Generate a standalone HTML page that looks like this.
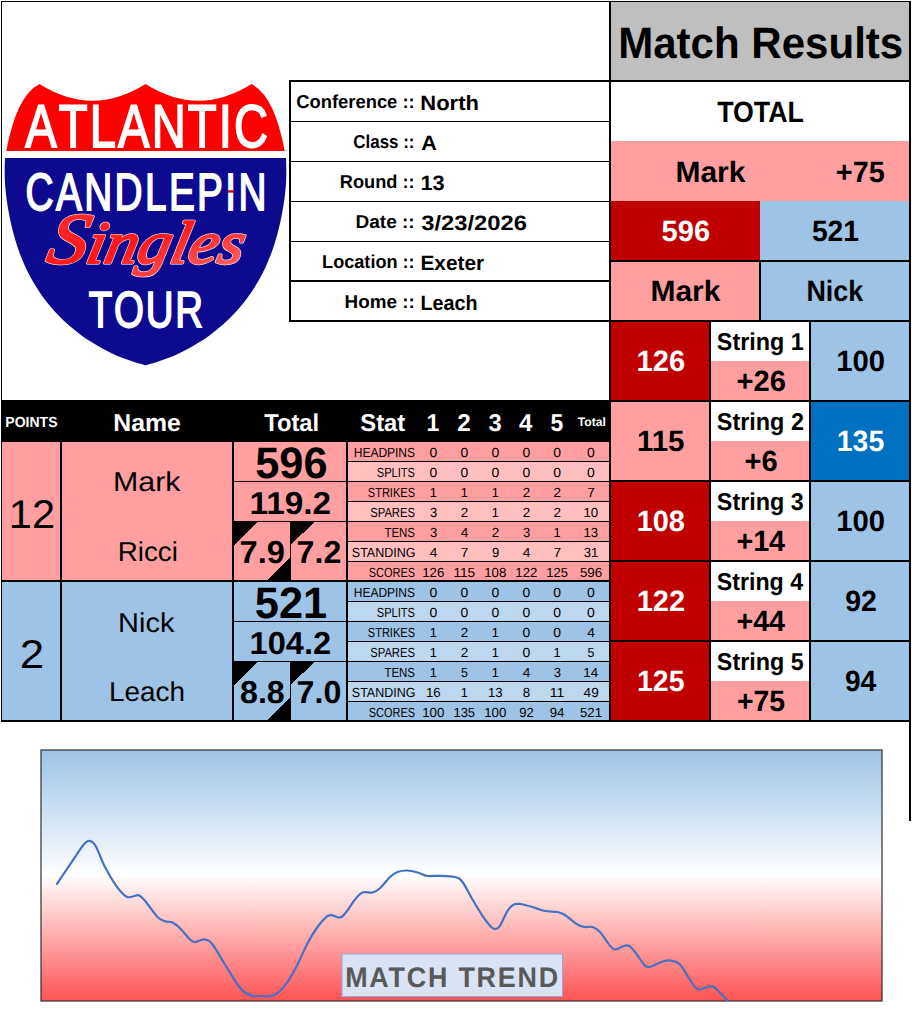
<!DOCTYPE html>
<html lang="en"><head><meta charset="utf-8"><title>Atlantic Candlepin Singles Tour - Match Results</title>
<style>
html,body{margin:0;padding:0;background:#fff}
body{width:912px;height:1023px;overflow:hidden}
svg{display:block;font-family:"Liberation Sans",Arial,sans-serif}
text{white-space:pre}
</style></head><body>
<svg width="912" height="1023" viewBox="0 0 912 1023" shape-rendering="crispEdges" text-rendering="geometricPrecision">
<defs>
<linearGradient id="cg" x1="0" y1="0" x2="0" y2="1"><stop offset="0" stop-color="#9DC3E6"/><stop offset="0.5" stop-color="#ffffff"/><stop offset="1" stop-color="#FF5353"/></linearGradient>
<linearGradient id="sg" x1="0" y1="0" x2="1" y2="1"><stop offset="0" stop-color="#FF3030"/><stop offset="0.5" stop-color="#FF1818"/><stop offset="1" stop-color="#FF7070"/></linearGradient>
</defs>
<rect width="912" height="1023" fill="#fff"/>
<g>
<rect x="1" y="1" width="910" height="1" fill="#000"/>
<rect x="1" y="1" width="1" height="721" fill="#000"/>
<rect x="909" y="1" width="2" height="820" fill="#000"/>
<rect x="609" y="1" width="2" height="721" fill="#000"/>
<rect x="611" y="2" width="298" height="78" fill="#BFBFBF"/>
<rect x="289" y="80" width="621" height="2" fill="#000"/>
<text x="618.19" y="57.5" font-size="43.92" font-weight="bold" textLength="285.04" lengthAdjust="spacingAndGlyphs">Match Results</text>
<text x="717.21" y="121.75" font-size="29.28" font-weight="bold" textLength="86.59" lengthAdjust="spacingAndGlyphs">TOTAL</text>
<rect x="611" y="141" width="298" height="60" fill="#FF9F9F"/>
<text x="675.49" y="182" font-size="29.28" font-weight="bold" textLength="69.98" lengthAdjust="spacingAndGlyphs">Mark</text>
<text x="835.79" y="182" font-size="29.28" font-weight="bold" textLength="49.02" lengthAdjust="spacingAndGlyphs">+75</text>
<rect x="611" y="201" width="149" height="59" fill="#C00000"/>
<rect x="760" y="201" width="149" height="59" fill="#9DC3E6"/>
<text x="661.61" y="241.25" font-size="29.28" font-weight="bold" fill="#fff" textLength="48.44" lengthAdjust="spacingAndGlyphs">596</text>
<text x="811.88" y="241.25" font-size="29.28" font-weight="bold" textLength="47.16" lengthAdjust="spacingAndGlyphs">521</text>
<rect x="611" y="260" width="298" height="2" fill="#000"/>
<rect x="611" y="262" width="148" height="58" fill="#FF9F9F"/>
<rect x="761" y="262" width="148" height="58" fill="#9DC3E6"/>
<rect x="759" y="261" width="2" height="60" fill="#000"/>
<text x="650.49" y="301.25" font-size="29.28" font-weight="bold" textLength="69.98" lengthAdjust="spacingAndGlyphs">Mark</text>
<text x="806.45" y="301.25" font-size="29.28" font-weight="bold" textLength="56.77" lengthAdjust="spacingAndGlyphs">Nick</text>
<rect x="611" y="320" width="298" height="2" fill="#000"/>
<rect x="611" y="322" width="98" height="78" fill="#C00000"/>
<rect x="711" y="322" width="98" height="39" fill="#fff"/>
<rect x="711" y="361" width="98" height="39" fill="#FF9F9F"/>
<rect x="811" y="322" width="98" height="78" fill="#9DC3E6"/>
<rect x="709" y="322" width="2" height="78" fill="#000"/>
<rect x="809" y="322" width="2" height="78" fill="#000"/>
<rect x="611" y="400" width="298" height="2" fill="#000"/>
<text x="636.50" y="371.25" font-size="29.28" font-weight="bold" fill="#fff" textLength="48.71" lengthAdjust="spacingAndGlyphs">126</text>
<text x="716.83" y="350" font-size="24.40" font-weight="bold" textLength="86.82" lengthAdjust="spacingAndGlyphs">String 1</text>
<text x="736.48" y="390.75" font-size="29.28" font-weight="bold" textLength="49.37" lengthAdjust="spacingAndGlyphs">+26</text>
<text x="836.22" y="371.25" font-size="29.28" font-weight="bold" textLength="48.91" lengthAdjust="spacingAndGlyphs">100</text>
<rect x="611" y="402" width="98" height="78" fill="#FF9F9F"/>
<rect x="711" y="402" width="98" height="39" fill="#fff"/>
<rect x="711" y="441" width="98" height="39" fill="#FF9F9F"/>
<rect x="811" y="402" width="98" height="78" fill="#0070C0"/>
<rect x="709" y="402" width="2" height="78" fill="#000"/>
<rect x="809" y="402" width="2" height="78" fill="#000"/>
<rect x="611" y="480" width="298" height="2" fill="#000"/>
<text x="637.01" y="451.25" font-size="29.28" font-weight="bold" textLength="47.47" lengthAdjust="spacingAndGlyphs">115</text>
<text x="716.83" y="430" font-size="24.40" font-weight="bold" textLength="87.11" lengthAdjust="spacingAndGlyphs">String 2</text>
<text x="744.59" y="470.75" font-size="29.28" font-weight="bold" textLength="33.15" lengthAdjust="spacingAndGlyphs">+6</text>
<text x="836.76" y="451.25" font-size="29.28" font-weight="bold" fill="#fff" textLength="47.47" lengthAdjust="spacingAndGlyphs">135</text>
<rect x="611" y="482" width="98" height="78" fill="#C00000"/>
<rect x="711" y="482" width="98" height="39" fill="#fff"/>
<rect x="711" y="521" width="98" height="39" fill="#FF9F9F"/>
<rect x="811" y="482" width="98" height="78" fill="#9DC3E6"/>
<rect x="709" y="482" width="2" height="78" fill="#000"/>
<rect x="809" y="482" width="2" height="78" fill="#000"/>
<rect x="611" y="560" width="298" height="2" fill="#000"/>
<text x="636.65" y="531.25" font-size="29.28" font-weight="bold" fill="#fff" textLength="48.28" lengthAdjust="spacingAndGlyphs">108</text>
<text x="716.83" y="510" font-size="24.40" font-weight="bold" textLength="87.02" lengthAdjust="spacingAndGlyphs">String 3</text>
<text x="736.39" y="550.75" font-size="29.28" font-weight="bold" textLength="48.67" lengthAdjust="spacingAndGlyphs">+14</text>
<text x="836.22" y="531.25" font-size="29.28" font-weight="bold" textLength="48.91" lengthAdjust="spacingAndGlyphs">100</text>
<rect x="611" y="562" width="98" height="78" fill="#C00000"/>
<rect x="711" y="562" width="98" height="39" fill="#fff"/>
<rect x="711" y="601" width="98" height="39" fill="#FF9F9F"/>
<rect x="811" y="562" width="98" height="78" fill="#9DC3E6"/>
<rect x="709" y="562" width="2" height="78" fill="#000"/>
<rect x="809" y="562" width="2" height="78" fill="#000"/>
<rect x="611" y="640" width="298" height="2" fill="#000"/>
<text x="636.72" y="611.25" font-size="29.28" font-weight="bold" fill="#fff" textLength="48.39" lengthAdjust="spacingAndGlyphs">122</text>
<text x="716.83" y="590" font-size="24.40" font-weight="bold" textLength="86.29" lengthAdjust="spacingAndGlyphs">String 4</text>
<text x="736.39" y="630.75" font-size="29.28" font-weight="bold" textLength="48.67" lengthAdjust="spacingAndGlyphs">+44</text>
<text x="845.21" y="611.25" font-size="29.28" font-weight="bold" textLength="31.72" lengthAdjust="spacingAndGlyphs">92</text>
<rect x="611" y="642" width="98" height="78" fill="#C00000"/>
<rect x="711" y="642" width="98" height="39" fill="#fff"/>
<rect x="711" y="681" width="98" height="39" fill="#FF9F9F"/>
<rect x="811" y="642" width="98" height="78" fill="#9DC3E6"/>
<rect x="709" y="642" width="2" height="78" fill="#000"/>
<rect x="809" y="642" width="2" height="78" fill="#000"/>
<rect x="611" y="720" width="298" height="2" fill="#000"/>
<text x="637.01" y="691.25" font-size="29.28" font-weight="bold" fill="#fff" textLength="47.47" lengthAdjust="spacingAndGlyphs">125</text>
<text x="716.83" y="670" font-size="24.40" font-weight="bold" textLength="86.82" lengthAdjust="spacingAndGlyphs">String 5</text>
<text x="736.97" y="710.75" font-size="29.28" font-weight="bold" textLength="48.15" lengthAdjust="spacingAndGlyphs">+75</text>
<text x="844.91" y="691.25" font-size="29.28" font-weight="bold" textLength="31.35" lengthAdjust="spacingAndGlyphs">94</text>
<rect x="289" y="80" width="2" height="242" fill="#000"/>
<rect x="291" y="121" width="318" height="1" fill="#000"/>
<rect x="291" y="161" width="318" height="1" fill="#000"/>
<rect x="291" y="201" width="318" height="1" fill="#000"/>
<rect x="291" y="241" width="318" height="1" fill="#000"/>
<rect x="291" y="280" width="318" height="2" fill="#000"/>
<rect x="289" y="320" width="322" height="2" fill="#000"/>
<text x="296.22" y="107.9" font-size="18.70" font-weight="bold" textLength="118.45" lengthAdjust="spacingAndGlyphs">Conference ::</text>
<text x="420.33" y="109.6" font-size="20.80" font-weight="bold" textLength="58.60" lengthAdjust="spacingAndGlyphs">North</text>
<text x="353.32" y="147.9" font-size="18.70" font-weight="bold" textLength="61.21" lengthAdjust="spacingAndGlyphs">Class ::</text>
<text x="421.26" y="149.6" font-size="20.80" font-weight="bold" textLength="15.59" lengthAdjust="spacingAndGlyphs">A</text>
<text x="339.85" y="187.9" font-size="18.70" font-weight="bold" textLength="74.80" lengthAdjust="spacingAndGlyphs">Round ::</text>
<text x="420.43" y="189.6" font-size="20.80" font-weight="bold" textLength="24.21" lengthAdjust="spacingAndGlyphs">13</text>
<text x="355.48" y="227.9" font-size="18.70" font-weight="bold" textLength="59.25" lengthAdjust="spacingAndGlyphs">Date ::</text>
<text x="421.25" y="229.6" font-size="20.80" font-weight="bold" textLength="105.76" lengthAdjust="spacingAndGlyphs">3/23/2026</text>
<text x="322.08" y="267.9" font-size="18.70" font-weight="bold" textLength="92.57" lengthAdjust="spacingAndGlyphs">Location ::</text>
<text x="420.41" y="269.6" font-size="20.80" font-weight="bold" textLength="63.73" lengthAdjust="spacingAndGlyphs">Exeter</text>
<text x="344.56" y="307.9" font-size="18.70" font-weight="bold" textLength="70.16" lengthAdjust="spacingAndGlyphs">Home ::</text>
<text x="420.48" y="309.6" font-size="20.80" font-weight="bold" textLength="57.04" lengthAdjust="spacingAndGlyphs">Leach</text>
<rect x="2" y="400" width="607" height="42" fill="#000"/>
<rect x="2" y="442" width="607" height="138" fill="#FF9F9F"/>
<rect x="2" y="582" width="607" height="138" fill="#9DC3E6"/>
<rect x="348" y="442" width="261" height="19" fill="#FF9F9F"/>
<rect x="348" y="461" width="261" height="1" fill="#000"/>
<text x="353.73" y="457" font-size="13.28" textLength="61.32" lengthAdjust="spacingAndGlyphs">HEADPINS</text>
<text x="429.62" y="457" font-size="13.28" textLength="7.77" lengthAdjust="spacingAndGlyphs">0</text>
<text x="460.62" y="457" font-size="13.28" textLength="7.77" lengthAdjust="spacingAndGlyphs">0</text>
<text x="491.62" y="457" font-size="13.28" textLength="7.77" lengthAdjust="spacingAndGlyphs">0</text>
<text x="522.62" y="457" font-size="13.28" textLength="7.77" lengthAdjust="spacingAndGlyphs">0</text>
<text x="553.37" y="457" font-size="13.28" textLength="7.77" lengthAdjust="spacingAndGlyphs">0</text>
<text x="587.12" y="457" font-size="13.28" textLength="7.77" lengthAdjust="spacingAndGlyphs">0</text>
<rect x="348" y="462" width="261" height="19" fill="#FFBFBF"/>
<rect x="348" y="481" width="261" height="1" fill="#000"/>
<text x="376.83" y="477" font-size="13.28" textLength="38.17" lengthAdjust="spacingAndGlyphs">SPLITS</text>
<text x="429.62" y="477" font-size="13.28" textLength="7.77" lengthAdjust="spacingAndGlyphs">0</text>
<text x="460.62" y="477" font-size="13.28" textLength="7.77" lengthAdjust="spacingAndGlyphs">0</text>
<text x="491.62" y="477" font-size="13.28" textLength="7.77" lengthAdjust="spacingAndGlyphs">0</text>
<text x="522.62" y="477" font-size="13.28" textLength="7.77" lengthAdjust="spacingAndGlyphs">0</text>
<text x="553.37" y="477" font-size="13.28" textLength="7.77" lengthAdjust="spacingAndGlyphs">0</text>
<text x="587.12" y="477" font-size="13.28" textLength="7.77" lengthAdjust="spacingAndGlyphs">0</text>
<rect x="348" y="482" width="261" height="19" fill="#FF9F9F"/>
<rect x="348" y="501" width="261" height="1" fill="#000"/>
<text x="367.83" y="497" font-size="13.28" textLength="47.17" lengthAdjust="spacingAndGlyphs">STRIKES</text>
<text x="429.77" y="497" font-size="13.28" textLength="7.11" lengthAdjust="spacingAndGlyphs">1</text>
<text x="460.77" y="497" font-size="13.28" textLength="7.11" lengthAdjust="spacingAndGlyphs">1</text>
<text x="491.77" y="497" font-size="13.28" textLength="7.11" lengthAdjust="spacingAndGlyphs">1</text>
<text x="522.74" y="497" font-size="13.28" textLength="7.51" lengthAdjust="spacingAndGlyphs">2</text>
<text x="553.49" y="497" font-size="13.28" textLength="7.51" lengthAdjust="spacingAndGlyphs">2</text>
<text x="587.16" y="497" font-size="13.28" textLength="7.66" lengthAdjust="spacingAndGlyphs">7</text>
<rect x="348" y="502" width="261" height="19" fill="#FFBFBF"/>
<rect x="348" y="521" width="261" height="1" fill="#000"/>
<text x="370.23" y="517" font-size="13.28" textLength="44.77" lengthAdjust="spacingAndGlyphs">SPARES</text>
<text x="429.90" y="517" font-size="13.28" textLength="7.27" lengthAdjust="spacingAndGlyphs">3</text>
<text x="460.74" y="517" font-size="13.28" textLength="7.51" lengthAdjust="spacingAndGlyphs">2</text>
<text x="491.77" y="517" font-size="13.28" textLength="7.11" lengthAdjust="spacingAndGlyphs">1</text>
<text x="522.74" y="517" font-size="13.28" textLength="7.51" lengthAdjust="spacingAndGlyphs">2</text>
<text x="553.49" y="517" font-size="13.28" textLength="7.51" lengthAdjust="spacingAndGlyphs">2</text>
<text x="583.38" y="517" font-size="13.28" textLength="14.75" lengthAdjust="spacingAndGlyphs">10</text>
<rect x="348" y="522" width="261" height="19" fill="#FF9F9F"/>
<rect x="348" y="541" width="261" height="1" fill="#000"/>
<text x="384.41" y="537" font-size="13.28" textLength="30.62" lengthAdjust="spacingAndGlyphs">TENS</text>
<text x="429.90" y="537" font-size="13.28" textLength="7.27" lengthAdjust="spacingAndGlyphs">3</text>
<text x="460.71" y="537" font-size="13.28" textLength="7.66" lengthAdjust="spacingAndGlyphs">4</text>
<text x="491.74" y="537" font-size="13.28" textLength="7.51" lengthAdjust="spacingAndGlyphs">2</text>
<text x="522.90" y="537" font-size="13.28" textLength="7.27" lengthAdjust="spacingAndGlyphs">3</text>
<text x="553.52" y="537" font-size="13.28" textLength="7.11" lengthAdjust="spacingAndGlyphs">1</text>
<text x="583.48" y="537" font-size="13.28" textLength="14.62" lengthAdjust="spacingAndGlyphs">13</text>
<rect x="348" y="542" width="261" height="19" fill="#FFBFBF"/>
<rect x="348" y="561" width="261" height="1" fill="#000"/>
<text x="351.81" y="557" font-size="13.28" textLength="63.61" lengthAdjust="spacingAndGlyphs">STANDING</text>
<text x="429.71" y="557" font-size="13.28" textLength="7.66" lengthAdjust="spacingAndGlyphs">4</text>
<text x="460.66" y="557" font-size="13.28" textLength="7.66" lengthAdjust="spacingAndGlyphs">7</text>
<text x="491.89" y="557" font-size="13.28" textLength="7.22" lengthAdjust="spacingAndGlyphs">9</text>
<text x="522.71" y="557" font-size="13.28" textLength="7.66" lengthAdjust="spacingAndGlyphs">4</text>
<text x="553.41" y="557" font-size="13.28" textLength="7.66" lengthAdjust="spacingAndGlyphs">7</text>
<text x="583.73" y="557" font-size="13.28" textLength="14.68" lengthAdjust="spacingAndGlyphs">31</text>
<rect x="348" y="562" width="261" height="19" fill="#FF9F9F"/>
<rect x="348" y="581" width="261" height="1" fill="#000"/>
<text x="368.77" y="577" font-size="13.28" textLength="46.23" lengthAdjust="spacingAndGlyphs">SCORES</text>
<text x="422.23" y="577" font-size="13.28" textLength="22.12" lengthAdjust="spacingAndGlyphs">126</text>
<text x="453.42" y="577" font-size="13.28" textLength="21.71" lengthAdjust="spacingAndGlyphs">115</text>
<text x="484.27" y="577" font-size="13.28" textLength="22.03" lengthAdjust="spacingAndGlyphs">108</text>
<text x="515.28" y="577" font-size="13.28" textLength="22.09" lengthAdjust="spacingAndGlyphs">122</text>
<text x="546.17" y="577" font-size="13.28" textLength="21.71" lengthAdjust="spacingAndGlyphs">125</text>
<text x="579.90" y="577" font-size="13.28" textLength="22.25" lengthAdjust="spacingAndGlyphs">596</text>
<rect x="348" y="582" width="261" height="19" fill="#9DC3E6"/>
<rect x="348" y="601" width="261" height="1" fill="#000"/>
<text x="353.73" y="597" font-size="13.28" textLength="61.32" lengthAdjust="spacingAndGlyphs">HEADPINS</text>
<text x="429.62" y="597" font-size="13.28" textLength="7.77" lengthAdjust="spacingAndGlyphs">0</text>
<text x="460.62" y="597" font-size="13.28" textLength="7.77" lengthAdjust="spacingAndGlyphs">0</text>
<text x="491.62" y="597" font-size="13.28" textLength="7.77" lengthAdjust="spacingAndGlyphs">0</text>
<text x="522.62" y="597" font-size="13.28" textLength="7.77" lengthAdjust="spacingAndGlyphs">0</text>
<text x="553.37" y="597" font-size="13.28" textLength="7.77" lengthAdjust="spacingAndGlyphs">0</text>
<text x="587.12" y="597" font-size="13.28" textLength="7.77" lengthAdjust="spacingAndGlyphs">0</text>
<rect x="348" y="602" width="261" height="19" fill="#BDD7EE"/>
<rect x="348" y="621" width="261" height="1" fill="#000"/>
<text x="376.83" y="617" font-size="13.28" textLength="38.17" lengthAdjust="spacingAndGlyphs">SPLITS</text>
<text x="429.62" y="617" font-size="13.28" textLength="7.77" lengthAdjust="spacingAndGlyphs">0</text>
<text x="460.62" y="617" font-size="13.28" textLength="7.77" lengthAdjust="spacingAndGlyphs">0</text>
<text x="491.62" y="617" font-size="13.28" textLength="7.77" lengthAdjust="spacingAndGlyphs">0</text>
<text x="522.62" y="617" font-size="13.28" textLength="7.77" lengthAdjust="spacingAndGlyphs">0</text>
<text x="553.37" y="617" font-size="13.28" textLength="7.77" lengthAdjust="spacingAndGlyphs">0</text>
<text x="587.12" y="617" font-size="13.28" textLength="7.77" lengthAdjust="spacingAndGlyphs">0</text>
<rect x="348" y="622" width="261" height="19" fill="#9DC3E6"/>
<rect x="348" y="641" width="261" height="1" fill="#000"/>
<text x="367.83" y="637" font-size="13.28" textLength="47.17" lengthAdjust="spacingAndGlyphs">STRIKES</text>
<text x="429.77" y="637" font-size="13.28" textLength="7.11" lengthAdjust="spacingAndGlyphs">1</text>
<text x="460.74" y="637" font-size="13.28" textLength="7.51" lengthAdjust="spacingAndGlyphs">2</text>
<text x="491.77" y="637" font-size="13.28" textLength="7.11" lengthAdjust="spacingAndGlyphs">1</text>
<text x="522.62" y="637" font-size="13.28" textLength="7.77" lengthAdjust="spacingAndGlyphs">0</text>
<text x="553.37" y="637" font-size="13.28" textLength="7.77" lengthAdjust="spacingAndGlyphs">0</text>
<text x="587.21" y="637" font-size="13.28" textLength="7.66" lengthAdjust="spacingAndGlyphs">4</text>
<rect x="348" y="642" width="261" height="19" fill="#BDD7EE"/>
<rect x="348" y="661" width="261" height="1" fill="#000"/>
<text x="370.23" y="657" font-size="13.28" textLength="44.77" lengthAdjust="spacingAndGlyphs">SPARES</text>
<text x="429.77" y="657" font-size="13.28" textLength="7.11" lengthAdjust="spacingAndGlyphs">1</text>
<text x="460.74" y="657" font-size="13.28" textLength="7.51" lengthAdjust="spacingAndGlyphs">2</text>
<text x="491.77" y="657" font-size="13.28" textLength="7.11" lengthAdjust="spacingAndGlyphs">1</text>
<text x="522.62" y="657" font-size="13.28" textLength="7.77" lengthAdjust="spacingAndGlyphs">0</text>
<text x="553.52" y="657" font-size="13.28" textLength="7.11" lengthAdjust="spacingAndGlyphs">1</text>
<text x="587.55" y="657" font-size="13.28" textLength="6.92" lengthAdjust="spacingAndGlyphs">5</text>
<rect x="348" y="662" width="261" height="19" fill="#9DC3E6"/>
<rect x="348" y="681" width="261" height="1" fill="#000"/>
<text x="384.41" y="677" font-size="13.28" textLength="30.62" lengthAdjust="spacingAndGlyphs">TENS</text>
<text x="429.77" y="677" font-size="13.28" textLength="7.11" lengthAdjust="spacingAndGlyphs">1</text>
<text x="461.05" y="677" font-size="13.28" textLength="6.92" lengthAdjust="spacingAndGlyphs">5</text>
<text x="491.77" y="677" font-size="13.28" textLength="7.11" lengthAdjust="spacingAndGlyphs">1</text>
<text x="522.71" y="677" font-size="13.28" textLength="7.66" lengthAdjust="spacingAndGlyphs">4</text>
<text x="553.65" y="677" font-size="13.28" textLength="7.27" lengthAdjust="spacingAndGlyphs">3</text>
<text x="583.31" y="677" font-size="13.28" textLength="14.76" lengthAdjust="spacingAndGlyphs">14</text>
<rect x="348" y="682" width="261" height="19" fill="#BDD7EE"/>
<rect x="348" y="701" width="261" height="1" fill="#000"/>
<text x="351.81" y="697" font-size="13.28" textLength="63.61" lengthAdjust="spacingAndGlyphs">STANDING</text>
<text x="425.95" y="697" font-size="13.28" textLength="14.68" lengthAdjust="spacingAndGlyphs">16</text>
<text x="460.77" y="697" font-size="13.28" textLength="7.11" lengthAdjust="spacingAndGlyphs">1</text>
<text x="487.98" y="697" font-size="13.28" textLength="14.62" lengthAdjust="spacingAndGlyphs">13</text>
<text x="522.79" y="697" font-size="13.28" textLength="7.42" lengthAdjust="spacingAndGlyphs">8</text>
<text x="549.78" y="697" font-size="13.28" textLength="14.58" lengthAdjust="spacingAndGlyphs">11</text>
<text x="583.63" y="697" font-size="13.28" textLength="15.07" lengthAdjust="spacingAndGlyphs">49</text>
<rect x="348" y="702" width="261" height="19" fill="#9DC3E6"/>
<rect x="348" y="721" width="261" height="1" fill="#000"/>
<text x="368.77" y="717" font-size="13.28" textLength="46.23" lengthAdjust="spacingAndGlyphs">SCORES</text>
<text x="422.16" y="717" font-size="13.28" textLength="22.19" lengthAdjust="spacingAndGlyphs">100</text>
<text x="453.42" y="717" font-size="13.28" textLength="21.71" lengthAdjust="spacingAndGlyphs">135</text>
<text x="484.16" y="717" font-size="13.28" textLength="22.19" lengthAdjust="spacingAndGlyphs">100</text>
<text x="519.23" y="717" font-size="13.28" textLength="14.58" lengthAdjust="spacingAndGlyphs">92</text>
<text x="549.79" y="717" font-size="13.28" textLength="14.69" lengthAdjust="spacingAndGlyphs">94</text>
<text x="579.98" y="717" font-size="13.28" textLength="22.16" lengthAdjust="spacingAndGlyphs">521</text>
<rect x="1" y="580" width="609" height="2" fill="#000"/>
<rect x="1" y="720" width="910" height="2" fill="#000"/>
<rect x="60" y="442" width="2" height="278" fill="#000"/>
<rect x="232" y="442" width="2" height="278" fill="#000"/>
<rect x="346" y="442" width="2" height="278" fill="#000"/>
<rect x="234" y="481" width="112" height="1" fill="#000"/>
<rect x="234" y="521" width="112" height="1" fill="#000"/>
<rect x="234" y="621" width="112" height="1" fill="#000"/>
<rect x="234" y="661" width="112" height="1" fill="#000"/>
<path d="M234,521H258L234,545Z" fill="#000"/>
<path d="M290,521H316L290,545Z" fill="#000"/>
<path d="M291,556.5V580H267.5Z" fill="#000"/>
<rect x="290" y="521" width="1" height="59" fill="#000"/>
<path d="M234,661H258L234,685Z" fill="#000"/>
<path d="M290,661H316L290,685Z" fill="#000"/>
<path d="M291,696.5V720H267.5Z" fill="#000"/>
<rect x="290" y="661" width="1" height="59" fill="#000"/>
<text x="5.31" y="427" font-size="14.64" font-weight="bold" fill="#fff" textLength="52.24" lengthAdjust="spacingAndGlyphs">POINTS</text>
<text x="113.34" y="430.5" font-size="24.40" font-weight="bold" fill="#fff" textLength="67.51" lengthAdjust="spacingAndGlyphs">Name</text>
<text x="264.24" y="430.5" font-size="24.40" font-weight="bold" fill="#fff" textLength="54.88" lengthAdjust="spacingAndGlyphs">Total</text>
<text x="360.31" y="430.5" font-size="24.40" font-weight="bold" fill="#fff" textLength="44.98" lengthAdjust="spacingAndGlyphs">Stat</text>
<text x="426.58" y="430.6" font-size="24.40" font-weight="bold" fill="#fff" textLength="12.82" lengthAdjust="spacingAndGlyphs">1</text>
<text x="457.31" y="430.6" font-size="24.40" font-weight="bold" fill="#fff" textLength="13.51" lengthAdjust="spacingAndGlyphs">2</text>
<text x="488.46" y="430.6" font-size="24.40" font-weight="bold" fill="#fff" textLength="13.19" lengthAdjust="spacingAndGlyphs">3</text>
<text x="519.08" y="430.6" font-size="24.40" font-weight="bold" fill="#fff" textLength="13.41" lengthAdjust="spacingAndGlyphs">4</text>
<text x="550.50" y="430.6" font-size="24.40" font-weight="bold" fill="#fff" textLength="12.74" lengthAdjust="spacingAndGlyphs">5</text>
<text x="577.87" y="426" font-size="12.20" font-weight="bold" fill="#fff" textLength="27.96" lengthAdjust="spacingAndGlyphs">Total</text>
<text x="8.83" y="527.5" font-size="40.00" textLength="46.26" lengthAdjust="spacingAndGlyphs">12</text>
<text x="19.79" y="667.5" font-size="40.00" textLength="24.42" lengthAdjust="spacingAndGlyphs">2</text>
<text x="113.01" y="491" font-size="27.40" textLength="67.45" lengthAdjust="spacingAndGlyphs">Mark</text>
<text x="117.72" y="561" font-size="27.40" textLength="60.15" lengthAdjust="spacingAndGlyphs">Ricci</text>
<text x="118.12" y="632" font-size="27.40" textLength="56.33" lengthAdjust="spacingAndGlyphs">Nick</text>
<text x="108.96" y="701.25" font-size="27.40" textLength="76.11" lengthAdjust="spacingAndGlyphs">Leach</text>
<text x="255.27" y="478.2" font-size="43.92" font-weight="bold" textLength="72.30" lengthAdjust="spacingAndGlyphs">596</text>
<text x="254.77" y="618.2" font-size="43.92" font-weight="bold" textLength="72.34" lengthAdjust="spacingAndGlyphs">521</text>
<text x="249.55" y="513.5" font-size="31.72" font-weight="bold" textLength="81.51" lengthAdjust="spacingAndGlyphs">119.2</text>
<text x="249.55" y="653.5" font-size="31.72" font-weight="bold" textLength="81.51" lengthAdjust="spacingAndGlyphs">104.2</text>
<text x="239.60" y="563" font-size="31.72" font-weight="bold" textLength="45.36" lengthAdjust="spacingAndGlyphs">7.9</text>
<text x="296.62" y="563" font-size="31.72" font-weight="bold" textLength="44.67" lengthAdjust="spacingAndGlyphs">7.2</text>
<text x="239.98" y="703" font-size="31.72" font-weight="bold" textLength="44.76" lengthAdjust="spacingAndGlyphs">8.8</text>
<text x="296.62" y="703" font-size="31.72" font-weight="bold" textLength="44.70" lengthAdjust="spacingAndGlyphs">7.0</text>
</g>
<g shape-rendering="geometricPrecision">
<path d="M39.5,84 Q92.5,117.4 145.5,84 Q198.5,117.4 251.5,84 Q274.5,95.7 284.7,151 L6.3,151 Q16.5,95.7 39.5,84Z" fill="#FF0000"/>
<path d="M5,158 C5.0,160.0 4.7,166.0 4.7,169.9C4.7,173.8 4.7,177.8 4.9,181.7C5.1,185.6 5.5,189.6 5.9,193.5C6.3,197.4 6.9,201.3 7.5,205.2C8.1,209.1 8.8,213.0 9.6,216.9C10.4,220.8 11.2,224.7 12.2,228.5C13.1,232.3 14.2,236.1 15.3,239.9C16.4,243.7 17.7,247.5 19.0,251.2C20.3,254.9 21.8,258.6 23.3,262.2C24.9,265.8 26.5,269.4 28.3,272.9C30.1,276.4 32.0,279.9 34.0,283.3C36.0,286.7 38.1,290.0 40.3,293.2C42.5,296.4 44.8,299.6 47.3,302.7C49.8,305.8 52.3,308.8 55.0,311.7C57.7,314.6 60.4,317.5 63.3,320.2C66.2,322.9 69.2,325.6 72.2,328.1C75.2,330.6 78.3,333.1 81.5,335.4C84.7,337.7 88.1,340.0 91.4,342.1C94.7,344.2 98.0,346.2 101.5,348.1C105.0,350.0 108.5,351.8 112.1,353.5C115.7,355.2 119.2,356.7 122.9,358.1C126.6,359.5 130.3,360.9 134.1,362.1C137.9,363.3 143.6,364.8 145.5,365.4 C147.4,364.8 153.1,363.3 156.9,362.1C160.7,360.9 164.4,359.5 168.1,358.1C171.8,356.7 175.3,355.2 178.9,353.5C182.5,351.8 186.1,350.0 189.5,348.1C192.9,346.2 196.3,344.2 199.6,342.1C202.9,340.0 206.3,337.7 209.5,335.4C212.7,333.1 215.8,330.6 218.8,328.1C221.8,325.6 224.8,322.9 227.7,320.2C230.6,317.5 233.3,314.6 236.0,311.7C238.7,308.8 241.2,305.8 243.7,302.7C246.1,299.6 248.5,296.4 250.7,293.2C252.9,290.0 255.0,286.7 257.0,283.3C259.0,279.9 260.9,276.4 262.7,272.9C264.5,269.4 266.1,265.8 267.7,262.2C269.2,258.6 270.7,254.9 272.0,251.2C273.3,247.5 274.6,243.7 275.7,239.9C276.8,236.1 277.9,232.3 278.8,228.5C279.8,224.7 280.6,220.8 281.4,216.9C282.2,213.0 282.9,209.1 283.5,205.2C284.1,201.3 284.7,197.4 285.1,193.5C285.5,189.6 285.9,185.6 286.1,181.7C286.3,177.8 286.3,173.8 286.3,169.9C286.3,166.0 286.1,160.0 286.0,158.0Z" fill="#0D0A90"/>
<text transform="scale(0.78 1)" x="32.32" y="147.3" font-size="60.47" fill="#fff" stroke="#fff" stroke-width="1.8" style="font-kerning:none" textLength="311.40" lengthAdjust="spacing">ATLANTIC</text>
<text transform="scale(0.74 1)" x="34.64" y="209.7" font-size="52.33" fill="#fff" stroke="#fff" stroke-width="1.8" style="font-kerning:none" textLength="325.44" lengthAdjust="spacing">CANDLEPIN</text>
<rect x="227.7" y="190.3" width="6" height="2.3" fill="#C4000A"/>
<text transform="scale(0.76 1)" x="116.76" y="327.3" font-size="50.58" fill="#fff" stroke="#fff" stroke-width="1.8" style="font-kerning:none" textLength="150.32" lengthAdjust="spacing">TOUR</text>
<text x="0" y="0" font-family="'Liberation Serif',serif" font-style="italic" font-size="60" textLength="196" lengthAdjust="spacingAndGlyphs" transform="translate(45 262.5) skewX(-12)" fill="#fff" stroke="#fff" stroke-width="3.1" stroke-linejoin="round"><tspan font-size="72">S</tspan>ingles</text>
<text x="0" y="0" font-family="'Liberation Serif',serif" font-style="italic" font-size="60" textLength="196" lengthAdjust="spacingAndGlyphs" transform="translate(45 262.5) skewX(-12)" fill="url(#sg)" stroke="url(#sg)" stroke-width="2.1" stroke-linejoin="round"><tspan font-size="72">S</tspan>ingles</text>
</g>
<g shape-rendering="geometricPrecision">
<rect x="41" y="750" width="841" height="251" fill="url(#cg)" stroke="#303030" stroke-opacity="0.8" stroke-width="1.5"/>
<path d="M57.0,883.8C59.6,879.9 68.0,867.3 72.5,860.8C77.0,854.2 80.9,847.8 83.8,844.5C86.6,841.2 87.5,840.5 89.5,840.8C91.5,841.0 92.9,841.4 95.5,845.8C98.1,850.1 101.5,860.3 105.0,867.0C108.5,873.7 112.7,880.8 116.2,885.8C119.8,890.7 123.5,894.7 126.2,896.5C129.0,898.3 130.4,896.7 132.5,896.5C134.6,896.3 136.7,894.5 138.8,895.2C140.8,896.0 141.9,897.1 145.0,900.8C148.1,904.4 154.2,913.6 157.5,917.0C160.8,920.4 162.5,920.3 165.0,921.2C167.5,922.2 170.0,921.3 172.5,922.5C175.0,923.7 177.1,925.4 180.0,928.2C182.9,931.1 187.5,937.2 190.0,939.5C192.5,941.8 192.5,942.0 195.0,942.0C197.5,942.0 202.1,939.1 205.0,939.5C207.9,939.9 209.2,940.3 212.5,944.5C215.8,948.7 220.8,957.8 225.0,964.5C229.2,971.2 234.2,979.8 237.5,984.5C240.8,989.2 242.5,990.6 245.0,992.5C247.5,994.4 250.0,995.2 252.5,995.8C255.0,996.3 257.1,995.9 260.0,996.0C262.9,996.1 267.1,996.7 270.0,996.2C272.9,995.8 274.6,995.6 277.5,993.2C280.4,990.9 284.2,986.8 287.5,982.0C290.8,977.2 294.2,971.0 297.5,964.5C300.8,958.0 304.2,949.5 307.5,943.2C310.8,937.0 314.4,931.4 317.5,927.0C320.6,922.6 324.0,919.0 326.2,917.0C328.5,915.0 329.0,915.2 331.2,915.2C333.5,915.3 337.5,918.0 340.0,917.5C342.5,917.0 343.8,915.0 346.2,912.0C348.8,909.0 352.3,902.8 355.0,899.5C357.7,896.2 359.6,893.7 362.5,892.5C365.4,891.3 369.6,893.2 372.5,892.5C375.4,891.8 377.1,890.8 380.0,888.2C382.9,885.7 387.1,879.7 390.0,877.0C392.9,874.3 394.6,873.1 397.5,872.0C400.4,870.9 404.2,870.4 407.5,870.5C410.8,870.6 414.2,871.6 417.5,872.5C420.8,873.4 423.8,875.5 427.5,876.0C431.2,876.5 435.4,875.6 440.0,875.8C444.6,875.9 451.2,876.0 455.0,877.0C458.8,878.0 459.6,878.2 462.5,882.0C465.4,885.8 469.2,893.9 472.5,899.5C475.8,905.1 479.4,911.2 482.5,915.8C485.6,920.3 489.1,924.8 491.2,927.0C493.4,929.2 494.0,929.2 495.5,929.0C497.0,928.8 498.0,928.8 500.0,925.8C502.0,922.7 505.2,914.3 507.5,910.8C509.8,907.2 511.7,905.6 513.8,904.5C515.8,903.4 516.9,903.6 520.0,904.0C523.1,904.4 528.3,905.8 532.5,907.0C536.7,908.2 540.8,910.2 545.0,911.0C549.2,911.8 554.2,911.3 557.5,912.0C560.8,912.7 561.7,912.9 565.0,915.0C568.3,917.1 574.2,922.5 577.5,924.5C580.8,926.5 582.5,926.6 585.0,927.0C587.5,927.4 590.0,926.2 592.5,927.0C595.0,927.8 597.1,928.9 600.0,932.0C602.9,935.1 607.5,942.8 610.0,945.8C612.5,948.7 612.9,949.4 615.0,949.5C617.1,949.6 620.2,947.1 622.5,946.5C624.8,945.9 626.7,944.8 628.8,945.8C630.8,946.7 632.3,948.7 635.0,952.0C637.7,955.3 642.3,963.3 645.0,965.8C647.7,968.2 648.3,967.2 651.2,966.5C654.2,965.8 659.0,962.5 662.5,961.5C666.0,960.5 669.6,960.2 672.5,960.8C675.4,961.2 677.5,962.0 680.0,964.5C682.5,967.0 685.0,972.0 687.5,975.8C690.0,979.5 692.9,984.7 695.0,987.0C697.1,989.3 697.9,989.5 700.0,989.5C702.1,989.5 705.4,987.5 707.5,987.0C709.6,986.5 710.8,985.7 712.5,986.2C714.2,986.8 715.1,987.9 717.5,990.2C719.9,992.6 725.4,998.6 727.0,1000.2" fill="none" stroke="#4472C4" stroke-width="2.2" stroke-linecap="round" stroke-linejoin="round"/>
<rect x="342" y="954" width="220.5" height="42.5" fill="#DAE3F3" stroke="#8FAADC" stroke-width="1"/>
<text transform="scale(0.95 1)" x="363.37" y="986.5" font-size="28.3" font-weight="bold" fill="#595959" textLength="224.13" lengthAdjust="spacing">MATCH TREND</text>
</g>
</svg>
</body></html>
